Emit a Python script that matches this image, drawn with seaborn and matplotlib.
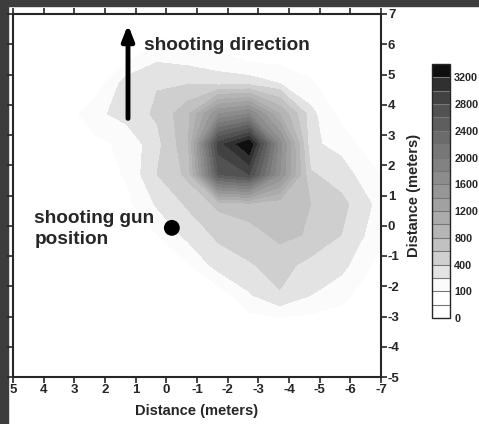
import numpy as np
import matplotlib
matplotlib.use("Agg")
import matplotlib.pyplot as plt
import seaborn as sns
from matplotlib.patches import Rectangle

# measurement grid (metres), rows top -> bottom, columns left -> right
x_m = [3.3, 2.3, 1.3, 0.3, -0.7, -1.7, -2.7, -3.7, -4.7, -5.7, -6.7, -7.7]
y_m = [6.7, 5.7, 4.7, 3.7, 2.7, 1.7, 0.7, -0.3, -1.3, -2.3, -3.3]
counts = [
    [0, 0, 0, 0, 0, 0, 0, 0, 0, 0, 0, 0],
    [0, 0, 0, 190, 150, 110, 0, 0, 0, 0, 0, 0],
    [0, 0, 330, 390, 390, 340, 340, 250, 120, 0, 0, 0],
    [0, 220, 300, 430, 750, 1600, 1800, 1000, 300, 50, 0, 0],
    [0, 50, 150, 340, 750, 2900, 3399, 1700, 280, 200, 0, 0],
    [0, 0, 120, 400, 650, 2600, 2800, 1600, 420, 320, 150, 0],
    [0, 0, 50, 270, 420, 650, 700, 650, 600, 450, 250, 0],
    [0, 0, 0, 100, 300, 430, 520, 650, 580, 400, 200, 0],
    [0, 0, 0, 0, 80, 320, 380, 480, 330, 300, 100, 0],
    [0, 0, 0, 0, 0, 0, 230, 380, 250, 150, 0, 0],
    [0, 0, 0, 0, 0, 0, 0, 0, 0, 0, 0, 0],
]
levels = [0, 50, 100, 250, 400, 600, 800, 1000, 1200, 1400, 1600, 1800,
          2000, 2200, 2400, 2600, 2800, 3000, 3200, 3400]
cbar_ticks = [0, 100, 400, 800, 1200, 1600, 2000, 2400, 2800, 3200]
gun_x = [-0.18]
gun_y = [-0.07]
x_ticks = list(range(5, -8, -1))
y_ticks = list(range(-5, 8))

sns.set_style("ticks")
plt.rcParams['font.family'] = ['Liberation Sans', 'DejaVu Sans']
plt.rcParams['font.weight'] = 'bold'

greys = [1.0, 1.0, 0.985, 0.89, 0.81, 0.755, 0.71, 0.67, 0.63, 0.59,
         0.55, 0.51, 0.465, 0.42, 0.37, 0.32, 0.26, 0.19, 0.06]
colors = [(g, g, g) for g in greys]

fig = plt.figure(figsize=(4.79, 4.24), dpi=100)
fig.patch.set_facecolor('white')
# scanned page frame
fig.patches.append(Rectangle((0, 0), 8 / 479, 1, transform=fig.transFigure,
                             color='#3d3d3d', zorder=-1))
fig.patches.append(Rectangle((0, 1 - 6 / 424), 1, 6 / 424,
                             transform=fig.transFigure, color='#3d3d3d', zorder=-1))

ax = fig.add_axes([13 / 479, 47 / 424, 368 / 479, 363 / 424])
X, Y = np.meshgrid(x_m, y_m)
cf = ax.contourf(X, Y, np.array(counts, dtype=float), levels=levels, colors=colors)

sns.scatterplot(x=gun_x, y=gun_y, ax=ax, color='black', s=130, edgecolor='none',
                legend=False, zorder=5)
ax.annotate('', xy=(1.25, 6.65), xytext=(1.25, 3.55),
            arrowprops=dict(arrowstyle='-|>,head_width=0.35,head_length=0.9',
                            color='black', lw=3.5, shrinkA=0, shrinkB=0))
ax.text(0.72, 5.95, 'shooting direction', fontsize=13.7, fontweight='bold',
        va='center', ha='left')
ax.text(4.3, -0.11, 'shooting gun\nposition', fontsize=13.7, fontweight='bold',
        va='center', ha='left', linespacing=1.25)

ax.set_xlim(5, -7)
ax.set_ylim(-5, 7)
ax.set_xticks(x_ticks)
ax.set_xticklabels([str(v) for v in x_ticks])
ax.set_yticks(y_ticks)
ax.set_yticklabels([str(v) for v in y_ticks])
ax.yaxis.tick_right()
ax.yaxis.set_label_position('right')
ax.tick_params(axis='both', which='major', direction='out', length=4, width=1.2,
               labelsize=9.5, pad=1, top=True, left=True, right=True, bottom=True)
for lab in ax.get_xticklabels() + ax.get_yticklabels():
    lab.set_fontweight('bold')
for s in ax.spines.values():
    s.set_linewidth(1.5)
ax.set_xlabel('Distance (meters)', fontsize=10.5, fontweight='bold', labelpad=6)
ax.set_ylabel('Distance (meters)', fontsize=10.5, fontweight='bold', labelpad=5)

cax = fig.add_axes([432 / 479, 106 / 424, 18 / 479, 254 / 424])
cb = fig.colorbar(cf, cax=cax, ticks=cbar_ticks, drawedges=True, spacing='uniform')
cb.outline.set_linewidth(1.0)
cb.dividers.set_color('#777777')
cb.dividers.set_linewidth(0.8)
cax.tick_params(length=0, labelsize=7.8, pad=3)
for lab in cax.get_yticklabels():
    lab.set_fontweight('bold')

fig.savefig('out.png', dpi=100)
